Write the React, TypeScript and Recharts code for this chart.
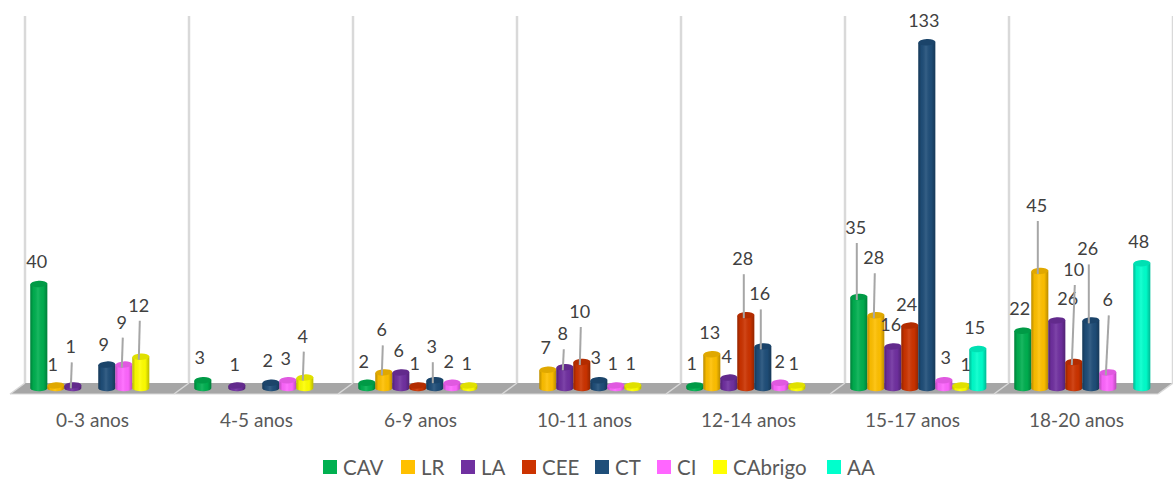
import { Bar, BarChart, LabelList, Legend, XAxis, YAxis, usePlotArea } from "recharts"

const categories = ["0-3 anos", "4-5 anos", "6-9 anos", "10-11 anos", "12-14 anos", "15-17 anos", "18-20 anos"]

const cav = [40, 3, 2, null, 1, 35, 22]
const lr = [1, null, 6, 7, 13, 28, 45]
const la = [1, 1, 6, 8, 4, 16, 26]
const cee = [null, null, 1, 10, 28, 24, 10]
const ct = [9, 2, 3, 3, 16, 133, 26]
const ci = [9, 3, 2, 1, 2, 3, 6]
const cabrigo = [12, 4, 1, 1, 1, 1, null]
const aa = [null, null, null, null, null, 15, 48]

const series = [
  { key: "CAV", values: cav, color: "#00B050" },
  { key: "LR", values: lr, color: "#FFC000" },
  { key: "LA", values: la, color: "#7030A0" },
  { key: "CEE", values: cee, color: "#CC3300" },
  { key: "CT", values: ct, color: "#1F4E79" },
  { key: "CI", values: ci, color: "#FF66FF" },
  { key: "CAbrigo", values: cabrigo, color: "#FFFF00" },
  { key: "AA", values: aa, color: "#00FFCC" },
]

const data = categories.map((name, i) => {
  const row: Record<string, string | number | null> = { name }
  series.forEach((s) => {
    row[s.key] = s.values[i]
  })
  return row
})

// hand placed data labels, [dx, dy] from the top centre of the bar (the chart has them moved by hand too)
// only the categories that have a bar, recharts drops the empty ones before the label index
const labelOffsets: Record<string, [number, number][]> = {
  CAV: [[-2, -23], [-3, -23], [-3, -22], [-3, -22], [-3, -70], [-3, -23]],
  LR: [[-3, -21], [-2, -43], [-2, -23], [-2, -22], [-2, -58], [-3, -66]],
  LA: [[-2, -39], [-2, -21], [-2, -22], [-2, -34], [-2, -22], [-2, -22], [11, -22]],
  CEE: [[-3, -22], [-2, -51], [-3, -57], [-3, -22], [0, -93]],
  CT: [[-3, -21], [-3, -23], [-3, -34], [-3, -23], [-3, -53], [-3, -22], [-3, -72]],
  CI: [[-2, -43], [-2, -22], [-3, -22], [-3, -22], [0, -22], [2, -23], [0, -73]],
  CAbrigo: [[-2, -52], [-2, -42], [-2, -22], [-2, -22], [-3, -22], [5, -21]],
  AA: [[-3, -22], [-3, -22]],
}

const W = 1173
const H = 480
const FONT = "Lato, Carlito, sans-serif"

function Backdrop() {
  const plot = usePlotArea()
  if (!plot) return null
  const step = plot.width / categories.length
  const left = plot.x
  const base = plot.y + plot.height
  const back = base - 5
  const front = base + 6
  const edges = Array.from({ length: categories.length + 1 }, (_, i) => left + step * i)
  return (
    <g>
      <defs>
        <linearGradient id="cylShade" x1="0" x2="1" y1="0" y2="0">
          <stop offset="0" stopColor="#000" stopOpacity={0.28} />
          <stop offset="0.18" stopColor="#000" stopOpacity={0.04} />
          <stop offset="0.45" stopColor="#fff" stopOpacity={0.1} />
          <stop offset="0.75" stopColor="#000" stopOpacity={0.02} />
          <stop offset="1" stopColor="#000" stopOpacity={0.28} />
        </linearGradient>
      </defs>
      {edges.map((x) => (
        <line key={x} x1={x + 7.5} x2={x + 7.5} y1={16} y2={back} stroke="#D9D9D9" strokeWidth={2.5} />
      ))}
      <polygon
        points={`${left - 7.5},${front} ${left + plot.width - 7.5},${front} ${left + plot.width + 7.5},${back} ${left + 7.5},${back}`}
        fill="#A6A6A6"
      />
      {edges.map((x) => (
        <line key={x} x1={x - 7.5} x2={x + 7.5} y1={front} y2={back} stroke="#D9D9D9" strokeWidth={1.5} />
      ))}
      <line x1={left - 7.5} x2={left + plot.width - 7.5} y1={front} y2={front} stroke="#D9D9D9" strokeWidth={1.2} />
    </g>
  )
}

function Cylinder(props: any) {
  const { x, y, width, height, fill } = props
  if (!height || height <= 0 || Number.isNaN(y)) return null
  const rx = width / 2
  const ry = 3.2
  const tilt = 0.5
  const body = `M${x},${y + tilt} L${x},${y + height + tilt} A${rx},${ry} 0 0 0 ${x + width},${y + height - tilt} L${x + width},${y - tilt} Z`
  const cx = x + rx
  return (
    <g>
      <path d={body} fill={fill} />
      <path d={body} fill="url(#cylShade)" />
      <g transform={`rotate(-3 ${cx} ${y})`}>
        <ellipse cx={cx} cy={y} rx={rx} ry={ry} fill={fill} />
        <ellipse cx={cx} cy={y} rx={rx} ry={ry} fill="#000" fillOpacity={0.12} />
      </g>
    </g>
  )
}

function makeLabel(key: string) {
  return function DataLabel(props: any) {
    const { x, y, width, value, index } = props
    if (value == null) return null
    const off = labelOffsets[key][index]
    if (!off) return null
    const cx = x + width / 2
    const lx = cx + off[0]
    const ly = y + off[1]
    return (
      <g>
        {off[1] < -30 && (
          <line x1={lx + 1} y1={ly + 16} x2={cx - 2} y2={y + 3} stroke="#A6A6A6" strokeWidth={2} />
        )}
        <text x={lx} y={ly + 7} textAnchor="middle" fontFamily={FONT} fontSize={18} fill="#404040">
          {value}
        </text>
      </g>
    )
  }
}

function CategoryTick({ x, y, payload }: any) {
  return (
    <text x={x - 7} y={y + 31} textAnchor="middle" fontFamily={FONT} fontSize={19} fill="#595959">
      {payload.value}
    </text>
  )
}

const legendStarts = [323, 401, 461, 522, 595, 657, 713, 827]

function LegendRow() {
  return (
    <div style={{ position: "relative", width: W, height: 30 }}>
      {series.map((s, i) => (
        <div key={s.key} style={{ position: "absolute", left: legendStarts[i], top: 2, display: "flex", alignItems: "center", height: 30 }}>
          <span style={{ width: 14, height: 14, background: s.color, marginRight: 6 }} />
          <span style={{ fontFamily: FONT, fontSize: 20.5, color: "#595959" }}>{s.key}</span>
        </div>
      ))}
    </div>
  )
}

export default function App() {
  return (
    <div style={{ position: "absolute", left: 0, top: 0, background: "#fff" }}>
      <BarChart
        width={W}
        height={H}
        data={data}
        barCategoryGap={12.8}
        barGap={0}
        margin={{ top: 24, right: 7.5, left: 17.5, bottom: 32 }}
      >
        <Backdrop />
        <XAxis dataKey="name" axisLine={false} tickLine={false} tick={<CategoryTick />} interval={0} height={30} />
        <YAxis hide domain={[0, 140]} />
        {series.map((s) => (
          <Bar key={s.key} dataKey={s.key} fill={s.color} shape={<Cylinder />} isAnimationActive={false}>
            <LabelList dataKey={s.key} content={makeLabel(s.key)} />
          </Bar>
        ))}
        <Legend content={<LegendRow />} wrapperStyle={{ left: 0, bottom: 0, width: W, height: 30 }} />
      </BarChart>
    </div>
  )
}
